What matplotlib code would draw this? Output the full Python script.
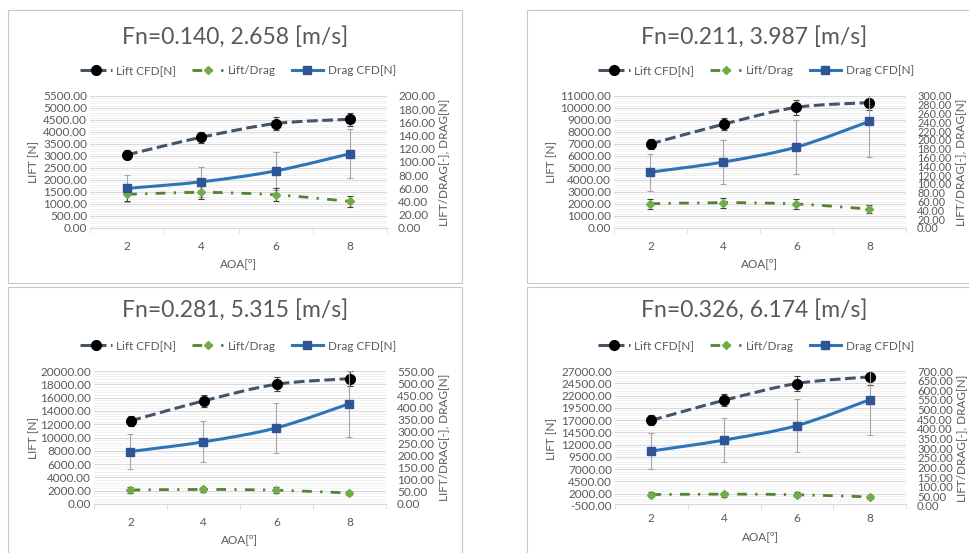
import matplotlib
matplotlib.use('Agg')
import matplotlib.pyplot as plt
from matplotlib.path import Path
from matplotlib.patches import PathPatch, Rectangle
from matplotlib.lines import Line2D
from matplotlib.ticker import FixedLocator, FormatStrFormatter

plt.rcParams['font.family'] = ['Lato', 'DejaVu Sans']

# angle of attack, same for every speed
aoa = [2, 4, 6, 8]

titulos = ['Fn=0.140, 2.658 [m/s]', 'Fn=0.211, 3.987 [m/s]',
           'Fn=0.281, 5.315 [m/s]', 'Fn=0.326, 6.174 [m/s]']

# lift [N] (left axis)
lift = [[3050, 3780, 4350, 4530],
        [7000, 8650, 10050, 10450],
        [12500, 15500, 18000, 18850],
        [16950, 21030, 24450, 25800]]
lift_err = [[185, 225, 260, 270],
            [420, 520, 600, 630],
            [750, 930, 1080, 1130],
            [1020, 1260, 1470, 1550]]

# drag [N] and lift/drag [-] (right axis)
drag = [[60, 70, 86.5, 112.5],
        [127, 150, 184, 242.5],
        [217, 257, 315, 415],
        [285, 342, 417, 551]]
drag_err = [[20, 23, 28.5, 37],
            [42, 50, 61, 80],
            [72, 85, 104, 137],
            [94, 113, 138, 182]]
lift_drag = [[51, 54, 50.3, 40.3],
             [55, 57.7, 54.6, 43],
             [57.6, 60.3, 57.1, 45.4],
             [59.5, 61.5, 58.6, 46.8]]
ld_err = [[10.2, 10.8, 10, 8],
          [11, 11.5, 11, 8.6],
          [11.5, 12, 11.4, 9.1],
          [11.9, 12.3, 11.7, 9.4]]

# axis limits and steps (left min, left max, step) / (right max, right step)
lim_izq = [(0, 5500, 500), (0, 11000, 1000), (0, 20000, 2000), (-500, 27000, 2500)]
lim_der = [(200, 20), (300, 20), (550, 50), (700, 50)]

# layout in pixels: plot box (x0, x1, y0, y1), panel frame, title centre
W, H = 969, 553
cajas = [(90, 387, 96, 228), (614, 906, 96, 228), (94, 386, 371, 504), (615, 906, 371, 506)]
marcos = [(8, 10, 462, 283), (527, 10, 1000, 283), (8, 287, 462, 600), (527, 287, 1000, 600)]
centros = [(235, 37), (754, 37), (235, 310), (754, 310)]
leyendas = [(238, 71), (756, 71), (238, 346), (756, 346)]
lbl_izq = [39, 557, 39, 557]
lbl_der = [438, 955, 438, 956]
fs_der = [8.5, 7.8, 8.5, 8.2]

GRIS = '#595959'
C_LIFT, C_LIFT_M = '#44546A', '#000000'
C_LD, C_LD_M = '#548235', '#70AD47'
C_DRAG, C_DRAG_M = '#2E75B6', '#2F5597'
LS_LIFT = (0, (3.5, 1.5))
LS_LD = (0, (3.5, 3, 0.8, 3))


def curva(ax, xs, ys, **kw):
    # smoothed line through the points (cubic bezier segments)
    pts = list(zip(xs, ys))
    verts = [pts[0]]
    codes = [Path.MOVETO]
    n = len(pts)
    for i in range(n - 1):
        p0 = pts[i - 1] if i > 0 else pts[i]
        p1, p2 = pts[i], pts[i + 1]
        p3 = pts[i + 2] if i + 2 < n else pts[i + 1]
        c1 = (p1[0] + (p2[0] - p0[0]) / 6, p1[1] + (p2[1] - p0[1]) / 6)
        c2 = (p2[0] - (p3[0] - p1[0]) / 6, p2[1] - (p3[1] - p1[1]) / 6)
        verts += [c1, c2, p2]
        codes += [Path.CURVE4] * 3
    ax.add_patch(PathPatch(Path(verts, codes), fill=False, capstyle='butt', **kw))


fig = plt.figure(figsize=(W / 100, H / 100), dpi=100)

for k in range(4):
    mx0, my0, mx1, my1 = marcos[k]
    fig.add_artist(Rectangle((mx0 / W, 1 - my1 / H), (mx1 - mx0) / W, (my1 - my0) / H,
                             transform=fig.transFigure, fill=False, ec='#c8c8c8', lw=0.8))

    x0, x1, y0, y1 = cajas[k]
    ax = fig.add_axes([x0 / W, 1 - y1 / H, (x1 - x0) / W, (y1 - y0) / H])
    ax2 = ax.twinx()
    ax.set_zorder(1)
    ax2.set_zorder(2)
    ax.patch.set_visible(False)

    lo, hi, paso = lim_izq[k]
    ax.set_ylim(lo, hi)
    ax.yaxis.set_major_locator(FixedLocator(list(range(lo, hi + 1, paso))))
    ax.yaxis.set_minor_locator(FixedLocator(list(range(lo, hi + 1, paso // 5))))
    ax.yaxis.set_major_formatter(FormatStrFormatter('%.2f'))
    ax.grid(axis='y', which='major', color='#d9d9d9', lw=0.8)
    ax.grid(axis='y', which='minor', color='#efefef', lw=0.6)
    ax.set_axisbelow(True)

    hi2, paso2 = lim_der[k]
    ax2.set_ylim(0, hi2)
    ax2.yaxis.set_major_locator(FixedLocator(list(range(0, hi2 + 1, paso2))))
    ax2.yaxis.set_major_formatter(FormatStrFormatter('%.2f'))

    ax.set_xlim(1, 9)
    ax.set_xticks(aoa)
    ax.set_xticks([1, 3, 5, 7, 9], minor=True)
    ax.tick_params(axis='x', which='major', length=0, pad=9 if k < 3 else 7, labelsize=8.5, labelcolor=GRIS)
    ax.tick_params(axis='x', which='minor', length=3.5, color='#d9d9d9', direction='out')
    ax.tick_params(axis='y', which='both', length=0, pad=2, labelsize=8.5, labelcolor=GRIS)
    ax2.tick_params(axis='y', length=0, pad=8, labelsize=fs_der[k], labelcolor=GRIS)

    for a in (ax, ax2):
        for s in ('top', 'left', 'right'):
            a.spines[s].set_visible(False)
    ax2.spines['bottom'].set_visible(False)
    ax.spines['bottom'].set_position(('data', 0))
    ax.spines['bottom'].set_color('#d9d9d9')

    ax.set_xlabel('AOA[º]', fontsize=8.5, color=GRIS, labelpad=5)
    ax.set_ylabel('LIFT [N]', fontsize=8.5, color=GRIS)
    ax.yaxis.set_label_coords((lbl_izq[k] - x0) / (x1 - x0), 0.5)
    ax2.set_ylabel('LIFT/DRAG[-], DRAG[N]', fontsize=8.5, color=GRIS)
    ax2.yaxis.set_label_coords((lbl_der[k] - x0) / (x1 - x0), 0.5)

    # lift on the left axis
    ax.errorbar(aoa, lift[k], yerr=lift_err[k], fmt='none', ecolor='#404040', elinewidth=0.8, capsize=2.5, capthick=0.8)
    curva(ax, aoa, lift[k], ec=C_LIFT, lw=2.2, ls=LS_LIFT, zorder=3)
    ax.plot(aoa, lift[k], 'o', color=C_LIFT_M, ms=7, zorder=4)

    # lift/drag and drag on the right axis
    ax2.errorbar(aoa, drag[k], yerr=drag_err[k], fmt='none', ecolor='#a6a6a6', elinewidth=0.8, capsize=2.5, capthick=0.8)
    ax2.errorbar(aoa, lift_drag[k], yerr=ld_err[k], fmt='none', ecolor='#404040', elinewidth=0.8, capsize=2.5, capthick=0.8)
    curva(ax2, aoa, lift_drag[k], ec=C_LD, lw=2.0, ls=LS_LD, zorder=3)
    ax2.plot(aoa, lift_drag[k], 'D', color=C_LD_M, ms=4, zorder=4)
    curva(ax2, aoa, drag[k], ec=C_DRAG, lw=2.2, zorder=3)
    ax2.plot(aoa, drag[k], 's', color=C_DRAG_M, ms=5.5, zorder=4)

    cx, cy = centros[k]
    fig.text(cx / W, 1 - cy / H, titulos[k], ha='center', va='center', fontsize=16.5, color=GRIS)

    manejadores = [
        Line2D([], [], color=C_LIFT, lw=2.2, ls=LS_LIFT, marker='o', mfc=C_LIFT_M, mec=C_LIFT_M, ms=7),
        Line2D([], [], color=C_LD, lw=2.0, ls=LS_LD, marker='D', mfc=C_LD_M, mec=C_LD_M, ms=4),
        Line2D([], [], color=C_DRAG, lw=2.2, marker='s', mfc=C_DRAG_M, mec=C_DRAG_M, ms=5.5),
    ]
    lx, ly = leyendas[k]
    fig.legend(manejadores, ['Lift CFD[N]', 'Lift/Drag', 'Drag CFD[N]'], loc='center',
               bbox_to_anchor=(lx / W, 1 - ly / H), ncol=3, frameon=False, fontsize=8.5,
               labelcolor=GRIS, handlelength=2.7, handletextpad=0.4, columnspacing=1.3)

fig.savefig('out.png', dpi=100)
